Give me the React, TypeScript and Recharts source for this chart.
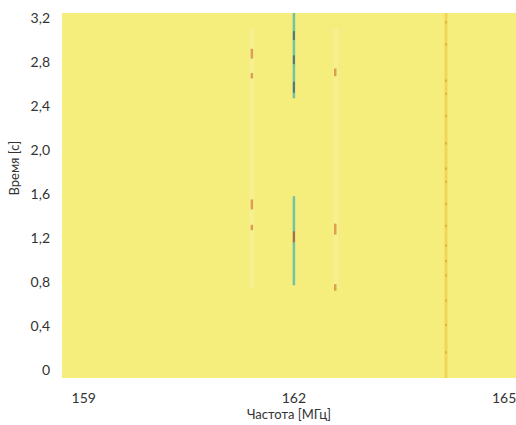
import React from 'react';
import {
  ComposedChart, Line, XAxis, YAxis, ReferenceArea
} from 'recharts';

// Frequency axis (MHz) and time axis (s)
const FREQ_DOMAIN = [158.69, 165.17];
const TIME_DOMAIN = [-0.073, 3.245];
const FREQ_TICKS = [159, 162, 165];
const TIME_TICKS = [0, 0.4, 0.8, 1.2, 1.6, 2.0, 2.4, 2.8, 3.2];

// strong carrier at 162 MHz (two bursts)
const CARRIER = [
  { f: 162.0, from: 2.47, to: 3.245 },
  { f: 162.0, from: 0.77, to: 1.58 },
];
// darker blobs along the carrier
const CARRIER_DARK = [
  { f: 162.0, from: 3.0, to: 3.08 },
  { f: 162.0, from: 2.78, to: 2.86 },
  { f: 162.0, from: 2.52, to: 2.62 },
  { f: 162.0, from: 1.16, to: 1.26 },
];
// weak continuous line
const WEAK_LINE = [{ f: 164.17, from: -0.073, to: 3.245 }];
const WEAK_DOTS = [3.15, 2.95, 2.62, 2.5, 2.3, 2.05, 1.82, 1.7, 1.5, 1.3, 1.12, 0.98, 0.85, 0.62, 0.4, 0.15];
// pale streaks around the sidebands
const PALE = [
  { f: 161.4, from: 0.75, to: 3.1 },
  { f: 162.6, from: 0.75, to: 3.1 },
];
// sideband hot spots
const SPOTS = [
  { f: 161.4, from: 2.83, to: 2.92 },
  { f: 161.4, from: 2.65, to: 2.7 },
  { f: 161.4, from: 1.46, to: 1.55 },
  { f: 161.4, from: 1.27, to: 1.32 },
  { f: 162.59, from: 2.67, to: 2.74 },
  { f: 162.59, from: 1.23, to: 1.33 },
  { f: 162.59, from: 0.72, to: 0.78 },
];

const seg = (s: { f: number; from: number; to: number }) => [
  { f: s.f, t: s.from },
  { f: s.f, t: s.to },
];

const FONT = 'Lato, "Open Sans", sans-serif';

export default function App() {
  return (
    <div style={{ position: 'absolute', left: 0, top: 0, background: '#fff' }}>
      <ComposedChart
        width={516}
        height={425}
        margin={{ top: 13, right: 0, bottom: 0, left: 0 }}
      >
        <XAxis
          type="number"
          dataKey="f"
          domain={FREQ_DOMAIN}
          ticks={FREQ_TICKS}
          axisLine={false}
          tickLine={false}
          tickMargin={9}
          allowDataOverflow
          tick={{ fontSize: 14, fill: '#333', fontFamily: FONT }}
          label={{ value: 'Частота [МГц]', position: 'insideBottom', offset: 6, fill: '#333', fontSize: 13, fontFamily: FONT }}
          height={47}
        />
        <YAxis
          type="number"
          dataKey="t"
          domain={TIME_DOMAIN}
          ticks={TIME_TICKS}
          axisLine={false}
          tickLine={false}
          tickMargin={6}
          width={62}
          allowDataOverflow
          tickFormatter={(v: number) => (v === 0 ? '0' : v.toFixed(1).replace('.', ','))}
          tick={{ fontSize: 14, fill: '#333', fontFamily: FONT }}
          label={{ value: 'Время [с]', angle: -90, position: 'insideLeft', offset: 14, fill: '#333', fontSize: 13, fontFamily: FONT }}
        />
        <ReferenceArea
          x1={FREQ_DOMAIN[0]}
          x2={FREQ_DOMAIN[1]}
          y1={TIME_DOMAIN[0]}
          y2={TIME_DOMAIN[1]}
          fill="#f5ee7c"
          fillOpacity={1}
          stroke="none"
        />
        {PALE.map((s, i) => (
          <Line key={`p${i}`} data={seg(s)} dataKey="t" stroke="#f7f2a6" strokeOpacity={0.5} strokeWidth={5}
            dot={false} isAnimationActive={false} />
        ))}
        {WEAK_LINE.map((s, i) => (
          <Line key={`w${i}`} data={seg(s)} dataKey="t" stroke="#f2d655" strokeWidth={3}
            dot={false} isAnimationActive={false} />
        ))}
        {WEAK_DOTS.map((t, i) => (
          <Line key={`wd${i}`} data={seg({ f: WEAK_LINE[0].f, from: t, to: t + 0.02 })} dataKey="t"
            stroke="#c99a3e" strokeOpacity={0.7} strokeWidth={1.5} dot={false} isAnimationActive={false} />
        ))}
        {SPOTS.map((s, i) => (
          <Line key={`s${i}`} data={seg(s)} dataKey="t" stroke="#d98a3c" strokeOpacity={0.8} strokeWidth={2.5}
            dot={false} isAnimationActive={false} />
        ))}
        {CARRIER.map((s, i) => (
          <Line key={`c${i}`} data={seg(s)} dataKey="t" stroke="#72c2a4" strokeWidth={2.5}
            dot={false} isAnimationActive={false} />
        ))}
        {CARRIER_DARK.map((s, i) => (
          <Line key={`cd${i}`} data={seg(s)} dataKey="t" stroke={i === 3 ? '#b5673a' : '#56727c'} strokeWidth={2}
            dot={false} isAnimationActive={false} />
        ))}
      </ComposedChart>
    </div>
  );
}
